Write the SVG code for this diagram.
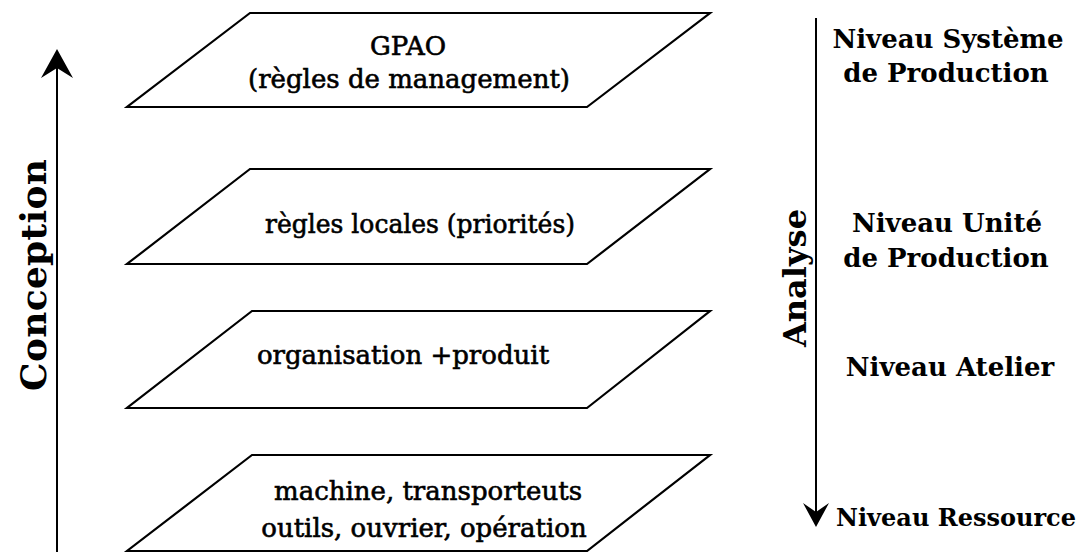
<svg xmlns="http://www.w3.org/2000/svg" width="1088" height="552" viewBox="0 0 1088 552">
<style>
.plane{fill:none;stroke:#000;stroke-width:2.2;stroke-linejoin:miter}
.axis{stroke:#000;stroke-width:2;fill:none}
.lbl{font-family:"DejaVu Serif","Liberation Serif",serif;font-size:26px;fill:#000;stroke:#000;stroke-width:0.6;text-anchor:middle}
.lvl{font-family:"DejaVu Serif","Liberation Serif",serif;font-size:26px;font-weight:bold;fill:#000;text-anchor:middle}
.ax{font-family:"DejaVu Serif","Liberation Serif",serif;font-size:36px;font-weight:bold;fill:#000;text-anchor:middle}
.ax2{font-family:"DejaVu Serif","Liberation Serif",serif;font-size:32px;font-weight:bold;fill:#000;text-anchor:middle}
</style>
<rect width="1088" height="552" fill="#fff"/>
<g id="connectors">
  <line class="axis" x1="57" y1="552" x2="57" y2="64"/>
  <path d="M57,49 L41,78 L57,68 L73,78 Z" fill="#000"/>
  <line class="axis" x1="816" y1="18" x2="816" y2="512"/>
  <path d="M816,527 L803,503 L816,512 L829,503 Z" fill="#000"/>
</g>
<g id="conception"><text class="ax" transform="translate(46,275) rotate(-90)" textLength="232" lengthAdjust="spacing">Conception</text></g>
<g id="analyse"><text class="ax2" transform="translate(806,278) rotate(-90)" textLength="138" lengthAdjust="spacingAndGlyphs">Analyse</text></g>
<g id="gpao">
  <polygon class="plane" points="250,13 710,13 587,107 127,107"/>
  <text class="lbl" x="408" y="55">GPAO</text>
  <text class="lbl" x="409" y="88">(règles de management)</text>
</g>
<g id="locales">
  <polygon class="plane" points="250,169 710,169 587,264 127,264"/>
  <text class="lbl" x="420" y="233" textLength="310" lengthAdjust="spacingAndGlyphs">règles locales (priorités)</text>
</g>
<g id="organisation">
  <polygon class="plane" points="252,311 710,311 587,408 127,408"/>
  <text class="lbl" x="403" y="364">organisation +produit</text>
</g>
<g id="ressource">
  <polygon class="plane" points="252,455 710,455 587,551 127,551"/>
  <text class="lbl" x="428" y="500">machine, transporteuts</text>
  <text class="lbl" x="424" y="537">outils, ouvrier, opération</text>
</g>
<g id="niveaux">
  <text class="lvl" x="948" y="48">Niveau Système</text>
  <text class="lvl" x="946" y="82">de Production</text>
  <text class="lvl" x="947" y="232">Niveau Unité</text>
  <text class="lvl" x="946" y="267">de Production</text>
  <text class="lvl" x="950" y="376">Niveau Atelier</text>
  <text class="lvl" x="956" y="526" style="font-size:24px">Niveau Ressource</text>
</g>
</svg>
